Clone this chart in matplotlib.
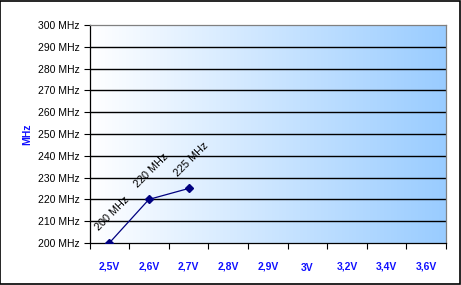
import numpy as np
import matplotlib
matplotlib.use("Agg")
from matplotlib import pyplot as plt
from matplotlib.colors import LinearSegmentedColormap
from matplotlib.transforms import blended_transform_factory

# data
voltages = ["2,5V", "2,6V", "2,7V", "2,8V", "2,9V", "3V", "3,2V", "3,4V", "3,6V"]
freq = [200, 220, 225]
freq_labels = ["200 MHz", "220 MHz", "225 MHz"]
y_ticks = [200, 210, 220, 230, 240, 250, 260, 270, 280, 290, 300]

BLUE = "#1010ff"
NAVY = "#000080"

plt.rcParams.update({'font.family': ['Liberation Sans', 'DejaVu Sans'],
                     'font.size': 7.5})

fig = plt.figure(figsize=(4.61, 2.85), dpi=100)
ax = fig.add_axes([89.5 / 461, 1 - 243 / 285, (446 - 89.5) / 461, (243 - 25) / 285])

# background gradient white -> light blue
grad = np.linspace(0, 1, 256).reshape(1, -1)
cmap = LinearSegmentedColormap.from_list("bg", ["#ffffff", "#99ccff"])
ax.imshow(grad, cmap=cmap, aspect="auto", extent=(-0.5, len(voltages) - 0.5, 200, 300),
          zorder=0, interpolation="bilinear")

x = np.arange(len(freq))
ax.plot(x, freq, color=NAVY, lw=0.9, marker="D", markersize=4, zorder=3)
for xi, yi, lab in zip(x, freq, freq_labels):
    ax.annotate(lab, (xi, yi), xytext=(2, 21), textcoords="offset points",
                rotation=45, ha="center", va="center", rotation_mode="anchor",
                fontsize=7.8, color="black")

ax.set_xlim(-0.5, len(voltages) - 0.5)
ax.set_ylim(200, 300)
ax.set_yticks(y_ticks)
ax.set_yticklabels([f"{v} MHz" for v in y_ticks])
for v in y_ticks[1:-1]:
    ax.axhline(v, color="black", lw=1, zorder=1)

# category boundaries as ticks, category names centred between them
ax.set_xticks(np.arange(-0.5, len(voltages)))
ax.set_xticklabels([])
ax.tick_params(axis="x", which="major", length=4, width=0.8)
ax.tick_params(axis="y", length=4, width=0.8, pad=3)
trans = blended_transform_factory(ax.transData, ax.transAxes)
for i, v in enumerate(voltages):
    # agg puts labels without a descender (no comma) a bit higher, push them down
    dy = -19 if "," in v else -20
    ax.annotate(v, (i, 0), xycoords=trans, xytext=(0, dy), textcoords="offset points",
                ha="center", va="baseline", color=BLUE, fontweight="bold",
                annotation_clip=False)

ax.set_ylabel("MHz", color=BLUE, fontweight="bold", fontsize=7.5, labelpad=4)

for s in ["top", "right"]:
    ax.spines[s].set_color("#808080")
for s in ["left", "bottom"]:
    ax.spines[s].set_color("black")
for s in ax.spines.values():
    s.set_linewidth(0.9)

# outer border
fig.patches.append(plt.Rectangle((0.001, 0.002), 0.997, 0.995, transform=fig.transFigure,
                                 fill=False, edgecolor="black", lw=1.2))

fig.savefig("out.png", dpi=100)
